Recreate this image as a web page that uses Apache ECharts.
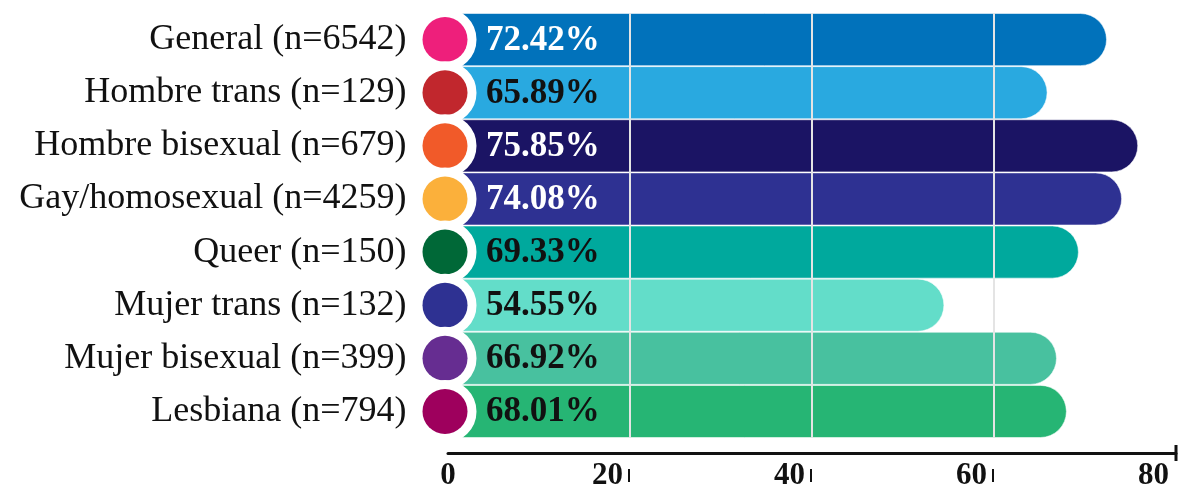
<!DOCTYPE html>
<html>
<head>
<meta charset="utf-8">
<script src="https://cdn.jsdelivr.net/npm/echarts@6/dist/echarts.min.js"></script>
<style>
  html, body { margin: 0; padding: 0; background: #fff; }
  #chart { width: 1201px; height: 485px; }
</style>
</head>
<body>
<div id="chart"></div>
<script>
// Share of respondents per group (percent)
const categories = [
  'General (n=6542)',
  'Hombre trans (n=129)',
  'Hombre bisexual (n=679)',
  'Gay/homosexual (n=4259)',
  'Queer (n=150)',
  'Mujer trans (n=132)',
  'Mujer bisexual (n=399)',
  'Lesbiana (n=794)'
];
const values = [72.42, 65.89, 75.85, 74.08, 69.33, 54.55, 66.92, 68.01];
const barColors = ['#0172BB', '#29A9E0', '#1B1464', '#2E3192', '#00A99D', '#63DDC9', '#48C19F', '#26B574'];
const dotColors = ['#EE1F7B', '#C1272D', '#F15A29', '#FBB03B', '#006837', '#2E3192', '#662D91', '#9E005D'];
const valueTextColors = ['#ffffff', '#111111', '#ffffff', '#ffffff', '#111111', '#111111', '#111111', '#111111'];
const xTicks = [0, 20, 40, 60, 80];

const SERIF = '"Liberation Serif", "DejaVu Serif", serif';

// Rich styles for the category labels: name, gap, then a coloured dot with a white ring
const yRich = {
  n: { fontFamily: SERIF, fontSize: 36, color: '#111' },
  g: { width: 16 }
};
dotColors.forEach((c, i) => {
  yRich['d' + i] = {
    width: 45, height: 45, borderRadius: 22.5,
    backgroundColor: c, borderColor: '#ffffff', borderWidth: 9
  };
});

// Rich styles for the x axis labels: number, small tick mark centred on the tick value
const xRich = {
  z: { fontFamily: SERIF, fontSize: 31, fontWeight: 'bold', color: '#111' },
  r: { fontFamily: SERIF, fontSize: 31, fontWeight: 'bold', color: '#111' },
  g: { width: 5 },
  k: { width: 2, height: 13, backgroundColor: '#111', verticalAlign: 'middle' },
  kx: { width: 2, height: 13, verticalAlign: 'middle' },
  s: { width: 38 }
};

const chart = echarts.init(document.getElementById('chart'), null, { renderer: 'canvas' });

chart.setOption({
  animation: false,
  backgroundColor: '#ffffff',
  grid: {
    left: 448, right: 25, top: 13, bottom: 47,
    containLabel: false, outerBoundsMode: 'none'
  },
  xAxis: {
    type: 'value',
    min: xTicks[0],
    max: xTicks[xTicks.length - 1],
    interval: xTicks[1] - xTicks[0],
    offset: 15,
    z: 4,
    axisLine: {
      show: true,
      lineStyle: { color: '#111', width: 3 },
      symbol: ['none', 'rect'],
      symbolSize: [16, 3]
    },
    axisTick: { show: false },
    splitLine: {
      show: true,
      showMinLine: false,
      showMaxLine: false,
      lineStyle: { color: '#e4e4e4', width: 2 }
    },
    axisLabel: {
      margin: 7,
      align: 'center',
      showMinLabel: true,
      showMaxLabel: true,
      rich: xRich,
      formatter: v => {
        if (v === xTicks[0]) return '{z|' + v + '}';
        const mark = v === xTicks[xTicks.length - 1] ? 'kx' : 'k';
        return '{r|' + v + '}{g| }{' + mark + '| }{s| }';
      }
    }
  },
  yAxis: {
    type: 'category',
    data: categories,
    inverse: true,
    z: 5,
    axisLine: { show: false },
    axisTick: { show: false },
    splitLine: { show: false },
    axisLabel: {
      interval: 0,
      showMinLabel: true,
      showMaxLabel: true,
      hideOverlap: false,
      margin: -19.5,
      align: 'right',
      verticalAlign: 'middle',
      rich: yRich,
      formatter: (name, idx) => '{n|' + name + '}{g| }{d' + idx + '| }'
    }
  },
  series: [{
    type: 'bar',
    barCategoryGap: 0,
    barWidth: '100%',
    data: values.map((v, i) => ({
      value: v,
      itemStyle: { color: barColors[i] },
      label: { color: valueTextColors[i] }
    })),
    itemStyle: {
      borderRadius: [0, 26, 26, 0],
      borderColor: 'rgba(255,255,255,0.55)',
      borderWidth: 1
    },
    label: {
      show: true,
      position: 'insideLeft',
      offset: [33, 1],
      fontFamily: SERIF,
      fontSize: 35,
      fontWeight: 'bold',
      formatter: p => p.value.toFixed(2) + '%'
    }
  }]
});
</script>
</body>
</html>
